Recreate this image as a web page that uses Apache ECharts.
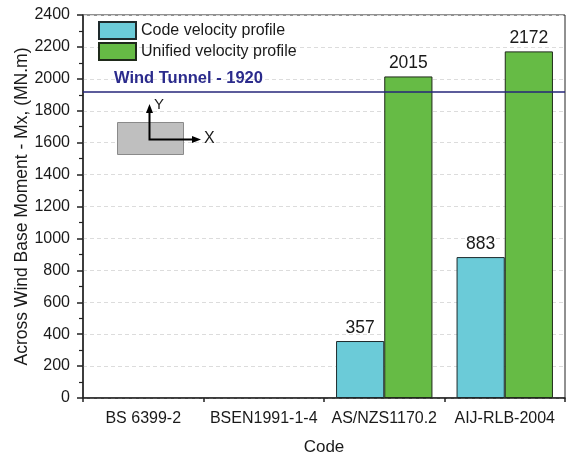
<!DOCTYPE html>
<html>
<head>
<meta charset="utf-8">
<script src="https://cdn.jsdelivr.net/npm/echarts@6/dist/echarts.min.js"></script>
<style>
  html, body { margin: 0; padding: 0; background: #fff; }
  #chart { width: 566px; height: 454px; }
</style>
</head>
<body>
<div id="chart"></div>
<script>
// Design codes compared on the x axis
const codes = ['BS 6399-2', 'BSEN1991-1-4', 'AS/NZS1170.2', 'AIJ-RLB-2004'];
// Across-wind base moment Mx (MN.m); '-' where a code gives no value
const codeProfile = ['-', '-', 357, 883];
const unifiedProfile = ['-', '-', 2015, 2172];
// Wind tunnel reference value
const windTunnel = 1920;
const yTicks = [0, 200, 400, 600, 800, 1000, 1200, 1400, 1600, 1800, 2000, 2200, 2400];

const FONT = 'Liberation Sans, Arial, sans-serif';
const chart = echarts.init(document.getElementById('chart'), null, { renderer: 'canvas' });

const barLabel = {
  show: true,
  position: 'top',
  distance: 4,
  fontFamily: FONT,
  fontSize: 17.5,
  color: '#1a1a1a'
};

chart.setOption({
  animation: false,
  backgroundColor: '#ffffff',
  textStyle: { fontFamily: FONT },
  grid: {
    left: 83, right: 1, top: 15, bottom: 56,
    outerBoundsMode: 'none',
    containLabel: false,
    show: true, borderColor: '#222', borderWidth: 1, backgroundColor: 'transparent'
  },
  legend: {
    orient: 'vertical',
    left: 93, top: 16,
    itemWidth: 37, itemHeight: 17, itemGap: 2,
    icon: 'rect',
    textStyle: { fontFamily: FONT, fontSize: 16, color: '#1a1a1a' },
    data: ['Code velocity profile', 'Unified velocity profile']
  },
  xAxis: [
    {
      type: 'category',
      data: codes,
      name: 'Code',
      nameLocation: 'middle',
      nameGap: 41,
      nameMoveOverlap: false,
      nameTextStyle: { fontFamily: FONT, fontSize: 17, color: '#1a1a1a' },
      axisLine: { lineStyle: { color: '#222', width: 1.5 } },
      axisTick: { alignWithLabel: true, length: 7, lineStyle: { color: '#222', width: 1.5 } },
      axisLabel: { interval: 0, hideOverlap: false, fontFamily: FONT, fontSize: 16, color: '#1a1a1a', margin: 13 },
      splitLine: { show: false }
    },
    {
      // boundary ticks between categories
      type: 'category',
      data: codes,
      position: 'bottom',
      axisLine: { show: false },
      axisTick: { show: true, interval: 0, length: 4, lineStyle: { color: '#222', width: 1.5 } },
      axisLabel: { show: false },
      splitLine: { show: false }
    }
  ],
  yAxis: {
    type: 'value',
    min: yTicks[0],
    max: yTicks[yTicks.length - 1],
    interval: 200,
    name: 'Across Wind Base Moment - Mx, (MN.m)',
    nameLocation: 'middle',
    nameGap: 52,
    nameMoveOverlap: false,
    nameTextStyle: { fontFamily: FONT, fontSize: 17.5, color: '#1a1a1a' },
    axisLine: { show: true, lineStyle: { color: '#222', width: 1.5 } },
    axisTick: { show: true, length: 6, lineStyle: { color: '#222', width: 1.5 } },
    minorTick: { show: true, splitNumber: 2, length: 4, lineStyle: { color: '#222', width: 1.2 } },
    axisLabel: { fontFamily: FONT, fontSize: 16, color: '#1a1a1a', margin: 13, formatter: v => String(v) },
    splitLine: { show: true, lineStyle: { color: '#dcdcdc', type: [4, 3], width: 1 } }
  },
  series: [
    {
      name: 'Code velocity profile',
      type: 'bar',
      data: codeProfile,
      barCategoryGap: '20%',
      barGap: '0%',
      itemStyle: { color: '#6bcbd8', borderColor: '#1e2a2c', borderWidth: 1 },
      label: barLabel,
      markLine: {
        silent: true,
        symbol: 'none',
        data: [{ yAxis: windTunnel }],
        lineStyle: { color: '#26267a', width: 1.6, type: 'solid' },
        label: {
          show: true,
          position: 'insideStartTop',
          distance: [31, 5],
          formatter: 'Wind Tunnel - ' + windTunnel,
          fontFamily: FONT,
          fontWeight: 'bold',
          fontSize: 16.5,
          color: '#2b2b8c'
        }
      }
    },
    {
      name: 'Unified velocity profile',
      type: 'bar',
      data: unifiedProfile,
      itemStyle: { color: '#66bb45', borderColor: '#1f2a1a', borderWidth: 1 },
      label: barLabel
    }
  ],
  graphic: [
    // section sketch with its local axes
    { type: 'rect', shape: { x: 117.5, y: 122.5, width: 66, height: 32 },
      style: { fill: '#bfbfbf', stroke: '#8a8a8a', lineWidth: 1 }, z: 10 },
    { type: 'polyline', shape: { points: [[149.5, 111], [149.5, 139.5], [193, 139.5]] },
      style: { stroke: '#000', lineWidth: 2, fill: null }, z: 11 },
    { type: 'polygon', shape: { points: [[146, 113], [153, 113], [149.5, 104]] },
      style: { fill: '#000' }, z: 11 },
    { type: 'polygon', shape: { points: [[192, 136], [192, 143], [201, 139.5]] },
      style: { fill: '#000' }, z: 11 },
    { type: 'text', x: 154, y: 97, style: { text: 'Y', font: '15px ' + FONT, fill: '#1a1a1a' }, z: 11 },
    { type: 'text', x: 204, y: 131, style: { text: 'X', font: '16px ' + FONT, fill: '#1a1a1a' }, z: 11 }
  ]
});
</script>
</body>
</html>
